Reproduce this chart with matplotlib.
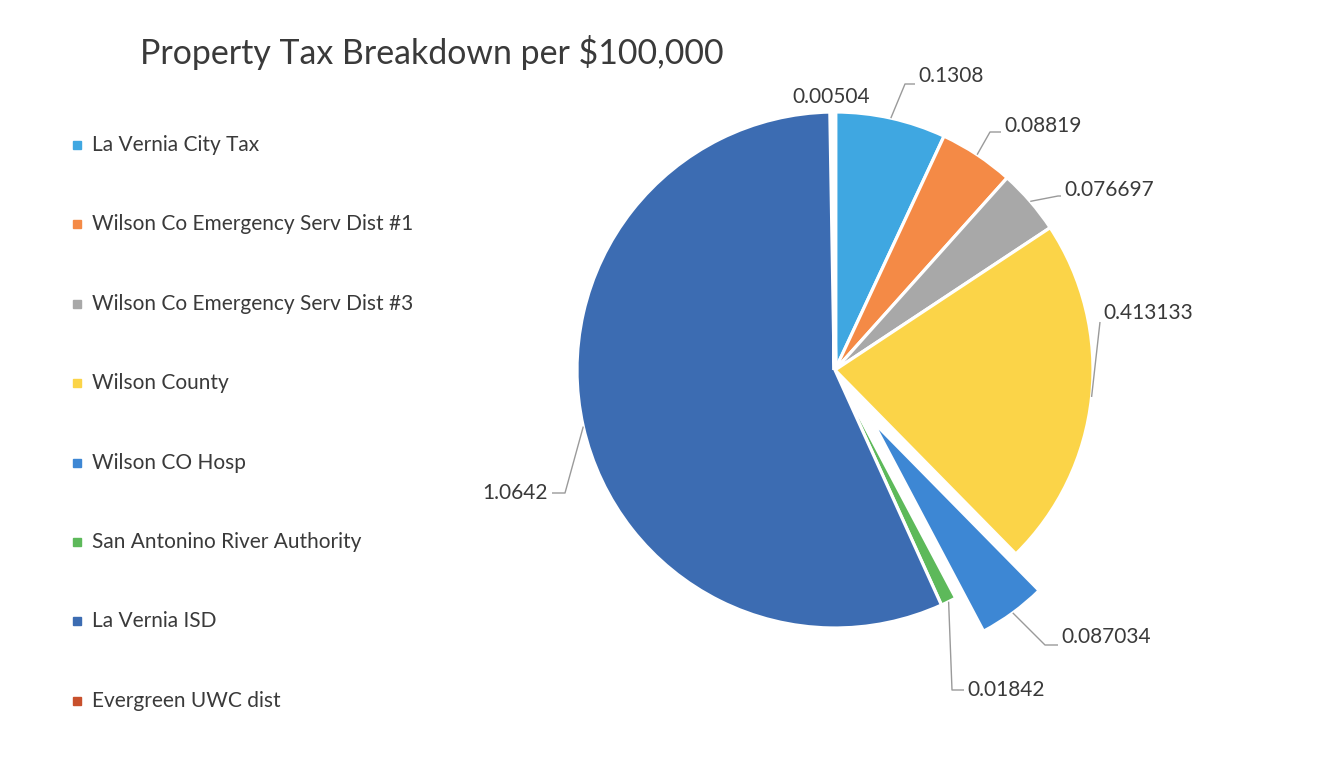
import numpy as np
import matplotlib
matplotlib.use("Agg")
import matplotlib.pyplot as plt

# data
labels = ["La Vernia City Tax", "Wilson Co Emergency Serv Dist #1",
          "Wilson Co Emergency Serv Dist #3", "Wilson County", "Wilson CO Hosp",
          "San Antonino River Authority", "La Vernia ISD", "Evergreen UWC dist"]
values = [0.1308, 0.08819, 0.076697, 0.413133, 0.087034, 0.01842, 1.0642, 0.00504]
value_text = ["0.1308", "0.08819", "0.076697", "0.413133", "0.087034", "0.01842",
              "1.0642", "0.00504"]
colors = ["#3FA7E1", "#F48A46", "#A8A8A8", "#FBD448", "#3D87D4", "#5DB95A",
          "#3C6CB2", "#C8502C"]

W, H = 1326, 773
plt.rcParams["font.family"] = ["Lato", "DejaVu Sans"]
txt = "#3a3a3a"

fig = plt.figure(figsize=(W / 100, H / 100), dpi=100)
ax = fig.add_axes([0, 0, 1, 1])

cx, cy, r = 835, H - 370, 258
wedges, _ = ax.pie(values, colors=colors, startangle=90, counterclock=False,
                   center=(cx, cy), radius=r,
                   wedgeprops=dict(edgecolor="white", linewidth=2.3))
ax.set_xlim(0, W)
ax.set_ylim(0, H)
ax.set_aspect("equal")
ax.axis("off")

# pull the hospital slice out, like the exploded slice in the original
hosp = wedges[4]
m = np.deg2rad((hosp.theta1 + hosp.theta2) / 2)
hosp.set_center((cx + 63 * np.cos(m), cy + 63 * np.sin(m)))
hosp.set_radius(238)
# tiny slice is hidden by the white borders in the original
wedges[7].set_linewidth(3.5)

# label layout: elbow point and text anchor (image px, y down), alignment
layout = [
    ((905, 84), (918, 76), "left"),
    ((990, 132), (1004, 126), "left"),
    ((1058, 196), (1064, 190), "left"),
    ((1100, 322), (1103, 313), "left"),
    ((1045, 645), (1061, 637), "left"),
    ((952, 690), (967, 690), "left"),
    ((565, 493), (548, 493), "right"),
    (None, (831, 97), "center"),
]

for w, t, (elbow, pos, ha) in zip(wedges, value_text, layout):
    mid = np.deg2rad((w.theta1 + w.theta2) / 2)
    wx, wy = w.center
    sx, sy = wx + w.r * np.cos(mid), wy + w.r * np.sin(mid)
    if elbow is not None:
        ex, ey = elbow[0], H - elbow[1]
        hx = pos[0] - 3 if ha == "left" else pos[0] + 4
        ax.plot([sx, ex, hx], [sy, ey, ey], color="#9a9a9a", lw=1.0,
                solid_capstyle="butt")
    ax.text(pos[0], H - pos[1], t, ha=ha, va="center", fontsize=15, color=txt)

# title
ax.text(140, H - 52, "Property Tax Breakdown per $100,000", fontsize=24.4,
        color=txt, ha="left", va="center")

# legend
for i, (lab, c) in enumerate(zip(labels, colors)):
    y = H - (145 + i * 79.4)
    ax.plot(77, y, marker="s", ms=5.5, color=c, mec=c)
    ax.text(92, y, lab, fontsize=15, color=txt, ha="left", va="center")

fig.savefig("out.png", dpi=100, facecolor="white")
